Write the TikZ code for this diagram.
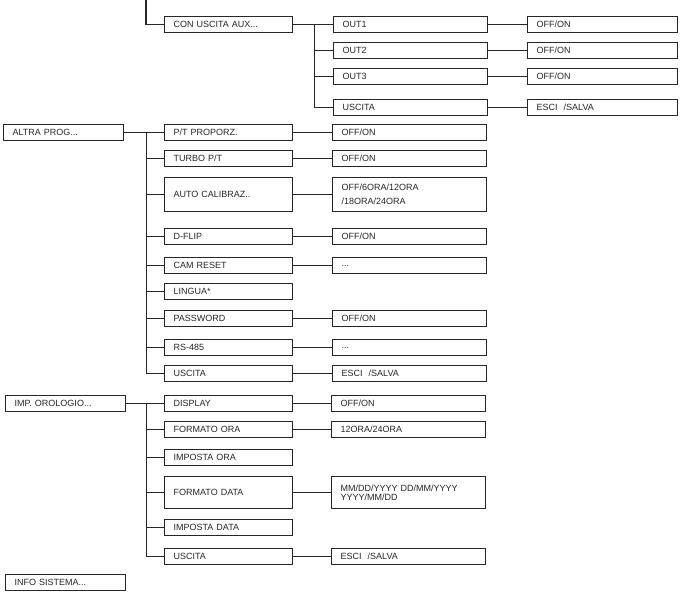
\documentclass[tikz,border=0pt]{standalone}
\usepackage{fontspec}
\setmainfont{Liberation Sans}
\begin{document}
\begin{tikzpicture}[x=1pt,y=-1pt,line width=1.3pt,draw=black!85,
 bx/.style={draw=black!85,line width=1.3pt,anchor=north west,inner xsep=9pt,inner ysep=0pt,align=left,font=\fontsize{9}{8.5}\selectfont,text=black!85,minimum height=#1},
 bx/.default=16,
 wa/.style={text width=102pt}, wb/.style={text width=110pt}, wc/.style={text width=136pt}, wd/.style={text width=132pt},
 c/.style={line width=1.3pt,draw=black!85}]
\useasboundingbox (0,0) rectangle (681,593);
\coordinate (top) at (146,0);
\node[bx,wb] (con) at (164,16) {CON USCITA AUX...};
\node[bx,wc] (o1) at (333,16) {OUT1};
\node[bx,wc] (o2) at (333,42) {OUT2};
\node[bx,wc] (o3) at (333,68) {OUT3};
\node[bx,wc] (ou) at (333,99) {USCITA};
\node[bx,wd] (v1) at (527,16) {OFF/ON};
\node[bx,wd] (v2) at (527,42) {OFF/ON};
\node[bx,wd] (v3) at (527,68) {OFF/ON};
\node[bx,wd] (vu) at (527,99) {ESCI \ /SALVA};
\draw[c] (top) |- (con.west);
\foreach \n in {o1,o2,o3,ou}{\draw[c] (con.east) -- ++(21,0) |- (\n.west);}
\draw[c] (o1) -- (v1); \draw[c] (o2) -- (v2); \draw[c] (o3) -- (v3); \draw[c] (ou) -- (vu);

\node[bx,wa] (ap) at (3,124) {ALTRA PROG...};
\node[bx,wb] (a1) at (164,124) {P/T PROPORZ.};
\node[bx,wb] (a2) at (164,150) {TURBO P/T};
\node[bx=34,wb] (a3) at (164,177) {AUTO CALIBRAZ..};
\node[bx,wb] (a4) at (164,228) {D-FLIP};
\node[bx,wb] (a5) at (164,257) {CAM RESET};
\node[bx,wb] (a6) at (164,283) {LINGUA*};
\node[bx,wb] (a7) at (164,310) {PASSWORD};
\node[bx,wb] (a8) at (164,339) {RS-485};
\node[bx,wb] (a9) at (164,365) {USCITA};
\node[bx,wc] (b1) at (332,124) {OFF/ON};
\node[bx,wc] (b2) at (332,150) {OFF/ON};
\node[bx=34,wc,font=\fontsize{9}{14}\selectfont] (b3) at (332,177) {OFF/6ORA/12ORA\\/18ORA/24ORA};
\node[bx,wc] (b4) at (332,228) {OFF/ON};
\node[bx,wc] (b5) at (332,257) {...};
\node[bx,wc] (b7) at (332,310) {OFF/ON};
\node[bx,wc] (b8) at (332,339) {...};
\node[bx,wc] (b9) at (332,365) {ESCI \ /SALVA};
\foreach \n in {a1,a2,a3,a4,a5,a6,a7,a8,a9}{\draw[c] (ap.east) -- ++(22,0) |- (\n.west);}
\foreach \n in {1,2,3,4,5,7,8,9}{\draw[c] (a\n) -- (b\n);}

\node[bx,wa] (ip) at (5,395) {IMP. OROLOGIO...};
\node[bx,wb] (i1) at (164,395) {DISPLAY};
\node[bx,wb] (i2) at (164,421) {FORMATO ORA};
\node[bx,wb] (i3) at (164,449) {IMPOSTA ORA};
\node[bx=32,wb] (i4) at (164,476) {FORMATO DATA};
\node[bx,wb] (i5) at (164,519) {IMPOSTA DATA};
\node[bx,wb] (i6) at (164,548) {USCITA};
\node[bx,wc] (j1) at (331,395) {OFF/ON};
\node[bx,wc] (j2) at (331,421) {12ORA/24ORA};
\node[bx=32,wc] (j4) at (331,476) {MM/DD/YYYY DD/MM/YYYY\\YYYY/MM/DD};
\node[bx,wc] (j6) at (331,548) {ESCI \ /SALVA};
\foreach \n in {i1,i2,i3,i4,i5,i6}{\draw[c] (ip.east) -- ++(20,0) |- (\n.west);}
\foreach \n in {1,2,4,6}{\draw[c] (i\n) -- (j\n);}

\node[bx,wa] (inf) at (5,574) {INFO SISTEMA...};
\end{tikzpicture}
\end{document}
